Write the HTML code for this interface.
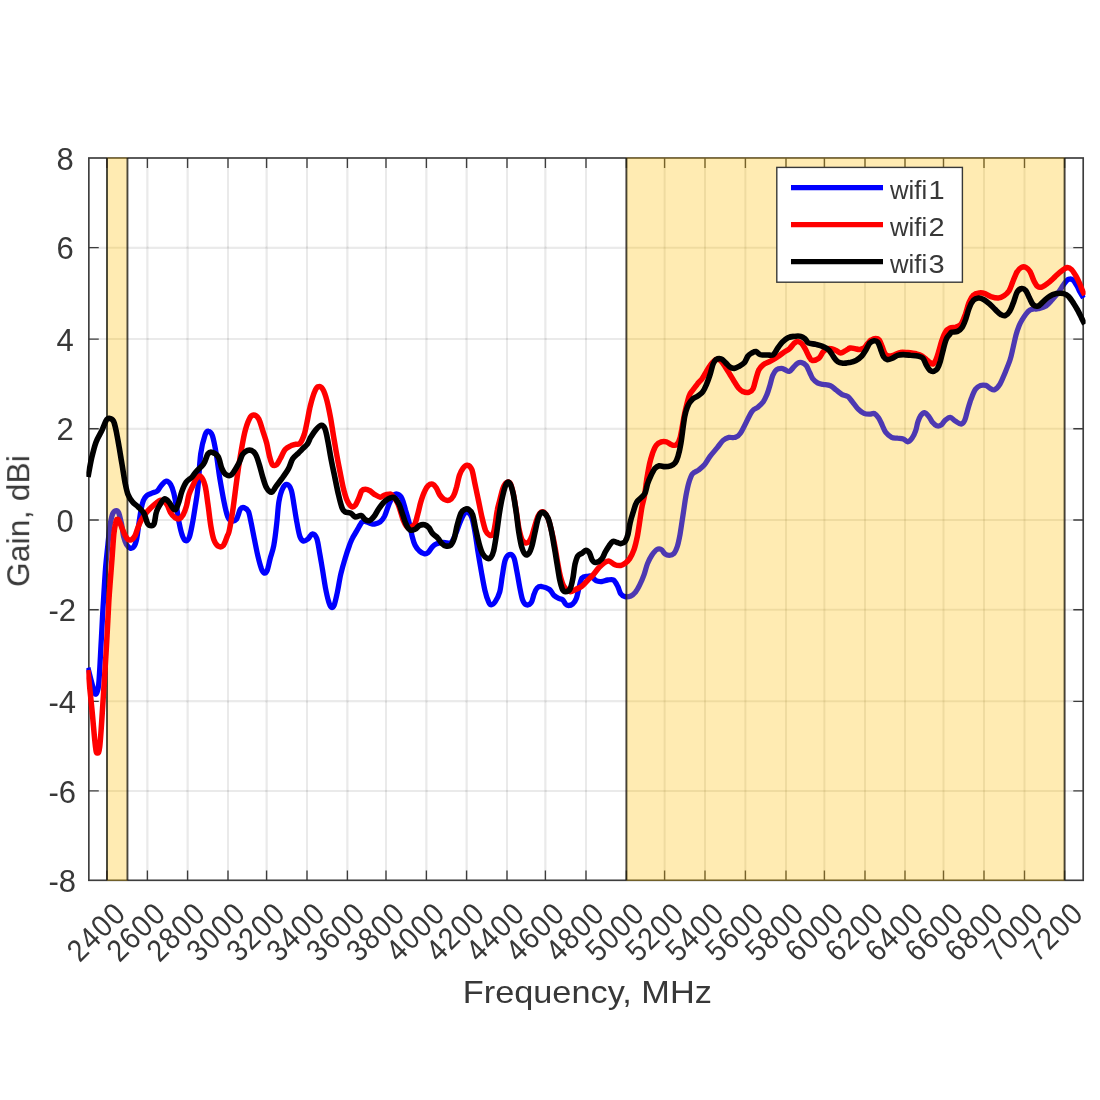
<!DOCTYPE html>
<html><head><meta charset="utf-8"><title>chart</title>
<style>html,body{margin:0;padding:0;background:#fff}body{width:1100px;height:1100px;position:relative;overflow:hidden;font-family:"Liberation Sans",sans-serif}</style>
</head><body>
<svg width="1100" height="1100" viewBox="0 0 1100 1100" style="position:absolute;left:0;top:0;font-family:'Liberation Sans',sans-serif">
<rect x="0" y="0" width="1100" height="1100" fill="#fff"/>
<filter id="bl" x="0" y="0" width="1100" height="1100" filterUnits="userSpaceOnUse"><feGaussianBlur stdDeviation="0.45"/></filter>
<g filter="url(#bl)">
<defs><clipPath id="cp"><rect x="86.35" y="158.0" width="999.25" height="722.3"/></clipPath></defs>
<path d="M107.00,158.0V880.3M147.40,158.0V880.3M187.60,158.0V880.3M228.00,158.0V880.3M266.60,158.0V880.3M307.00,158.0V880.3M347.40,158.0V880.3M386.00,158.0V880.3M426.40,158.0V880.3M466.60,158.0V880.3M507.00,158.0V880.3M545.40,158.0V880.3M586.00,158.0V880.3M626.40,158.0V880.3M664.60,158.0V880.3M705.00,158.0V880.3M745.40,158.0V880.3M786.00,158.0V880.3M824.40,158.0V880.3M865.00,158.0V880.3M905.00,158.0V880.3M943.50,158.0V880.3M984.00,158.0V880.3M1024.50,158.0V880.3M1064.60,158.0V880.3" stroke="rgba(38,38,38,0.105)" stroke-width="2" fill="none"/>
<path d="M88.85,790.90H1083.2M88.85,701.30H1083.2M88.85,609.70H1083.2M88.85,520.00H1083.2M88.85,428.70H1083.2M88.85,339.10H1083.2M88.85,247.65H1083.2" stroke="rgba(38,38,38,0.105)" stroke-width="2" fill="none"/>
<path d="M107.00,880.3v-9.9M107.00,158.0v9.9M147.40,880.3v-9.9M147.40,158.0v9.9M187.60,880.3v-9.9M187.60,158.0v9.9M228.00,880.3v-9.9M228.00,158.0v9.9M266.60,880.3v-9.9M266.60,158.0v9.9M307.00,880.3v-9.9M307.00,158.0v9.9M347.40,880.3v-9.9M347.40,158.0v9.9M386.00,880.3v-9.9M386.00,158.0v9.9M426.40,880.3v-9.9M426.40,158.0v9.9M466.60,880.3v-9.9M466.60,158.0v9.9M507.00,880.3v-9.9M507.00,158.0v9.9M545.40,880.3v-9.9M545.40,158.0v9.9M586.00,880.3v-9.9M586.00,158.0v9.9M626.40,880.3v-9.9M626.40,158.0v9.9M664.60,880.3v-9.9M664.60,158.0v9.9M705.00,880.3v-9.9M705.00,158.0v9.9M745.40,880.3v-9.9M745.40,158.0v9.9M786.00,880.3v-9.9M786.00,158.0v9.9M824.40,880.3v-9.9M824.40,158.0v9.9M865.00,880.3v-9.9M865.00,158.0v9.9M905.00,880.3v-9.9M905.00,158.0v9.9M943.50,880.3v-9.9M943.50,158.0v9.9M984.00,880.3v-9.9M984.00,158.0v9.9M1024.50,880.3v-9.9M1024.50,158.0v9.9M1064.60,880.3v-9.9M1064.60,158.0v9.9M88.85,790.90h9.9M1083.2,790.90h-9.9M88.85,701.30h9.9M1083.2,701.30h-9.9M88.85,609.70h9.9M1083.2,609.70h-9.9M88.85,520.00h9.9M1083.2,520.00h-9.9M88.85,428.70h9.9M1083.2,428.70h-9.9M88.85,339.10h9.9M1083.2,339.10h-9.9M88.85,247.65h9.9M1083.2,247.65h-9.9" stroke="#3c3c3c" stroke-width="1.35" fill="none"/>
<rect x="88.85" y="158.0" width="994.35" height="722.3" fill="none" stroke="#3c3c3c" stroke-width="1.65"/>
<g clip-path="url(#cp)" fill="none" stroke-linejoin="round" stroke-linecap="butt">
<path d="M87.9,667.7C88.6,670.3 90.7,678.8 91.9,683.1C93.1,687.4 94.1,692.4 95.0,693.7C95.9,695.1 96.7,693.5 97.3,691.4C98.0,689.2 98.3,689.6 99.0,680.7C99.7,671.9 100.6,651.6 101.4,638.2C102.1,624.7 102.7,611.8 103.5,600.0C104.2,588.2 104.9,576.4 105.6,567.3C106.4,558.2 107.1,552.4 107.8,545.5C108.5,538.5 109.2,531.1 110.0,525.8C110.8,520.5 111.7,516.4 112.7,513.8C113.7,511.3 115.0,510.7 116.0,510.6C117.0,510.4 117.8,510.5 118.7,512.7C119.6,514.9 120.6,519.6 121.5,523.6C122.3,527.6 122.8,533.3 123.6,536.7C124.5,540.2 125.3,542.5 126.4,544.4C127.5,546.3 128.9,547.8 130.2,548.2C131.5,548.5 132.9,548.1 134.0,546.5C135.1,545.0 135.9,542.7 136.7,538.9C137.5,535.1 138.2,528.5 138.9,523.6C139.6,518.7 140.4,513.3 141.1,509.4C141.8,505.6 142.4,503.0 143.3,500.7C144.2,498.5 145.1,497.1 146.6,495.8C148.0,494.5 150.2,493.9 152.0,493.1C153.8,492.3 155.9,492.2 157.4,490.9C159.0,489.6 159.8,487.1 161.3,485.4C162.7,483.8 164.6,481.3 166.2,481.1C167.7,480.9 169.3,482.4 170.6,484.4C171.8,486.4 172.8,489.3 173.8,493.1C174.8,496.9 175.6,502.2 176.6,507.3C177.5,512.4 178.4,519.1 179.3,523.6C180.2,528.2 181.0,531.7 182.0,534.5C183.0,537.4 184.1,540.0 185.3,540.5C186.5,541.1 187.9,540.6 189.1,537.8C190.3,535.0 191.4,528.7 192.4,523.6C193.4,518.5 194.2,513.1 195.1,507.3C196.0,501.5 196.9,497.6 197.8,488.7C198.8,479.8 199.5,462.8 200.7,453.8C201.9,444.9 203.8,438.7 205.1,434.9C206.4,431.2 207.5,431.1 208.7,431.3C209.9,431.4 211.1,432.1 212.4,435.6C213.6,439.2 214.8,445.5 216.0,452.4C217.2,459.3 218.3,468.8 219.6,477.1C221.0,485.3 222.7,495.3 224.0,501.8C225.3,508.4 226.4,513.2 227.6,516.4C228.9,519.5 229.8,520.2 231.3,520.7C232.7,521.2 234.8,521.2 236.4,519.3C237.9,517.3 239.1,511.0 240.4,509.1C241.6,507.2 242.7,507.3 244.0,507.6C245.3,508.0 247.1,508.6 248.4,511.3C249.6,513.9 250.3,519.2 251.3,523.6C252.2,528.1 253.1,532.8 254.2,538.2C255.3,543.5 256.6,550.5 257.8,555.6C259.0,560.7 260.4,565.8 261.4,568.7C262.5,571.6 263.4,572.8 264.4,573.1C265.3,573.3 266.3,572.6 267.3,570.2C268.2,567.8 269.1,562.7 270.2,558.5C271.3,554.4 272.7,551.3 273.8,545.5C274.9,539.6 275.9,530.9 276.7,523.6C277.6,516.4 277.9,507.6 278.9,501.8C279.9,496.0 281.2,491.6 282.6,488.7C283.9,485.8 285.5,484.1 286.9,484.4C288.4,484.6 290.1,486.5 291.3,490.2C292.5,493.8 293.2,500.6 294.2,506.2C295.1,511.8 296.1,518.5 297.1,523.6C298.1,528.7 298.9,533.8 300.0,536.7C301.1,539.6 302.3,540.7 303.6,541.1C305.0,541.5 306.5,540.1 308.0,538.9C309.5,537.7 310.9,533.9 312.4,533.8C313.8,533.7 315.5,535.0 316.7,538.2C317.9,541.3 318.7,547.4 319.6,552.7C320.6,558.1 321.6,564.4 322.6,570.2C323.5,576.0 324.5,582.5 325.4,587.6C326.4,592.7 327.4,597.5 328.4,600.7C329.3,604.0 330.3,606.5 331.3,607.3C332.2,608.0 333.2,607.4 334.2,605.1C335.1,602.8 336.0,598.5 337.1,593.5C338.2,588.4 339.4,580.4 340.7,574.5C342.1,568.7 343.6,563.4 345.1,558.5C346.5,553.7 348.2,548.8 349.4,545.5C350.7,542.1 351.1,540.6 352.4,538.2C353.6,535.8 355.2,533.6 356.7,530.9C358.3,528.2 360.4,523.8 361.8,522.2C363.3,520.6 363.9,521.2 365.4,521.5C367.0,521.7 369.8,523.2 371.3,523.6C372.8,524.1 372.9,524.4 374.4,524.1C375.8,523.8 378.5,523.2 380.2,521.9C381.9,520.6 383.1,519.0 384.6,516.1C386.0,513.2 387.5,507.8 388.9,504.4C390.4,501.1 391.8,497.4 393.3,495.7C394.7,494.0 396.2,493.8 397.6,494.3C399.1,494.8 400.7,496.0 402.0,498.6C403.3,501.3 404.4,506.1 405.6,510.3C406.9,514.4 408.2,519.0 409.3,523.4C410.4,527.7 411.2,532.8 412.2,536.5C413.1,540.1 413.9,542.8 415.1,545.2C416.3,547.6 417.9,549.5 419.4,551.0C421.0,552.5 423.1,553.7 424.6,553.9C426.0,554.2 426.8,553.7 428.2,552.5C429.5,551.2 431.1,548.1 432.6,546.6C434.0,545.2 435.2,544.5 436.9,543.7C438.6,543.0 441.0,542.4 442.7,542.3C444.4,542.1 445.6,543.0 447.1,543.0C448.5,543.0 450.0,543.8 451.4,542.3C452.9,540.7 454.4,536.9 455.8,533.5C457.3,530.2 458.7,525.3 460.2,521.9C461.6,518.5 463.2,514.8 464.6,513.2C465.9,511.6 467.0,511.7 468.2,512.5C469.4,513.2 470.7,514.5 471.8,517.5C472.9,520.6 473.8,525.3 474.7,530.6C475.7,536.0 476.6,542.8 477.6,549.5C478.7,556.3 480.1,564.6 481.3,571.4C482.5,578.1 483.7,585.2 484.9,590.3C486.1,595.4 487.5,599.5 488.6,601.9C489.6,604.3 490.4,604.8 491.4,604.8C492.5,604.8 493.7,604.0 495.1,601.9C496.5,599.8 498.5,596.3 499.7,592.0C500.9,587.8 501.3,581.6 502.2,576.4C503.1,571.1 503.9,564.0 505.1,560.4C506.3,556.7 508.0,555.0 509.4,554.5C510.9,554.1 512.6,554.8 513.8,557.5C515.0,560.1 515.8,565.7 516.7,570.5C517.7,575.4 518.7,581.7 519.6,586.5C520.6,591.4 521.5,596.6 522.5,599.6C523.6,602.7 524.7,604.2 526.2,604.7C527.6,605.2 529.9,604.4 531.3,602.5C532.6,600.7 533.2,596.2 534.2,593.8C535.1,591.4 535.9,589.2 537.1,588.0C538.3,586.8 539.4,586.3 541.5,586.5C543.5,586.8 547.4,588.0 549.5,589.5C551.5,590.9 552.4,593.8 553.8,595.3C555.3,596.7 556.7,597.5 558.2,598.2C559.6,598.9 561.3,598.7 562.5,599.6C563.8,600.6 564.5,603.0 565.5,604.0C566.4,605.0 567.1,605.5 568.4,605.5C569.6,605.5 571.4,605.2 572.7,604.0C574.1,602.8 575.3,601.1 576.4,598.2C577.5,595.3 578.3,589.9 579.3,586.5C580.2,583.2 580.8,579.5 582.2,577.8C583.5,576.1 585.7,576.6 587.3,576.4C588.8,576.1 590.2,575.6 591.6,576.4C593.1,577.1 594.3,579.9 596.0,580.7C597.7,581.6 599.9,581.6 601.8,581.5C603.8,581.3 605.7,580.2 607.6,580.0C609.6,579.8 611.8,578.9 613.5,580.0C615.1,581.1 616.6,584.2 617.8,586.5C619.0,588.9 619.5,592.1 620.7,593.8C621.9,595.5 623.4,596.4 625.1,596.7C626.8,597.1 629.2,596.7 630.9,596.0C632.6,595.3 633.8,594.2 635.3,592.4C636.7,590.5 638.2,588.0 639.6,585.1C641.1,582.2 642.7,578.5 644.0,574.9C645.3,571.3 646.2,566.9 647.5,563.6C648.8,560.4 650.3,557.6 651.8,555.3C653.4,552.9 655.3,550.4 656.9,549.5C658.5,548.5 659.9,548.7 661.3,549.5C662.6,550.2 663.6,552.9 664.9,553.8C666.2,554.8 667.8,555.3 669.3,555.3C670.7,555.3 672.3,555.3 673.6,553.8C675.0,552.4 676.2,549.9 677.3,546.5C678.4,543.2 679.2,538.8 680.2,533.5C681.1,528.1 682.1,520.9 683.1,514.5C684.1,508.2 685.0,501.0 686.0,495.6C687.0,490.3 687.8,486.2 688.9,482.6C690.0,478.9 691.0,475.9 692.5,473.8C694.1,471.8 696.4,471.6 698.4,470.2C700.3,468.7 702.2,467.4 704.2,465.1C706.1,462.8 707.8,459.3 710.0,456.4C712.2,453.5 715.1,450.3 717.3,447.6C719.5,445.0 721.2,442.1 723.1,440.4C725.0,438.7 727.0,437.9 728.9,437.4C730.8,437.0 732.8,438.2 734.7,437.4C736.7,436.7 737.7,437.3 740.5,433.1C743.4,428.8 748.8,416.2 751.6,412.0C754.5,407.8 755.5,409.3 757.5,407.6C759.4,405.9 761.7,404.0 763.3,401.8C764.8,399.6 765.8,397.2 766.9,394.6C768.0,391.9 768.9,389.0 769.8,385.8C770.8,382.7 771.6,378.3 772.7,375.6C773.8,373.0 774.9,371.0 776.4,369.8C777.8,368.6 780.0,368.4 781.5,368.4C782.9,368.4 783.8,369.3 785.1,369.8C786.4,370.3 788.0,371.8 789.5,371.3C790.9,370.8 792.5,368.2 793.8,366.9C795.2,365.6 796.1,364.0 797.5,363.3C798.8,362.5 800.4,362.2 801.8,362.6C803.3,362.9 804.8,363.8 806.2,365.4C807.5,367.1 808.7,370.5 809.8,372.7C810.9,374.9 811.5,376.9 812.7,378.6C814.0,380.2 815.7,381.9 817.5,382.9C819.2,383.9 821.1,383.9 823.3,384.4C825.5,384.8 828.4,384.9 830.5,385.8C832.7,386.8 834.4,388.7 836.4,390.2C838.3,391.6 840.2,393.5 842.2,394.6C844.1,395.6 846.3,395.5 848.0,396.7C849.7,397.9 850.7,399.8 852.4,401.8C854.1,403.9 856.2,407.2 858.2,409.1C860.1,411.0 862.1,412.6 864.0,413.4C865.9,414.3 868.1,414.2 869.8,414.2C871.5,414.2 872.7,412.8 874.2,413.4C875.6,414.1 877.2,415.9 878.5,417.8C879.9,419.8 881.0,422.7 882.2,425.1C883.4,427.5 884.2,430.3 885.8,432.4C887.4,434.4 889.7,436.5 891.6,437.4C893.6,438.4 895.5,437.9 897.5,438.2C899.4,438.4 901.6,438.3 903.3,438.9C905.0,439.5 906.2,441.9 907.6,441.8C909.1,441.7 910.7,440.0 912.0,438.2C913.3,436.4 914.7,433.6 915.6,430.9C916.6,428.2 917.0,424.7 917.8,422.2C918.7,419.6 919.6,417.2 920.7,415.6C921.8,414.1 923.0,412.6 924.4,412.7C925.7,412.9 927.4,414.8 928.7,416.4C930.1,417.9 931.0,420.6 932.4,422.2C933.7,423.8 935.3,425.3 936.7,425.8C938.2,426.3 939.7,426.0 941.1,425.1C942.5,424.2 943.6,421.6 945.1,420.4C946.6,419.1 948.5,417.3 950.2,417.4C951.9,417.6 953.5,420.0 955.3,421.1C957.1,422.2 959.5,424.1 961.1,424.0C962.7,423.9 963.6,422.7 964.7,420.4C965.8,418.1 966.5,413.8 967.6,410.2C968.7,406.5 969.9,402.1 971.3,398.6C972.6,395.0 974.1,391.3 975.6,389.1C977.2,386.9 979.0,386.1 980.7,385.4C982.4,384.8 984.2,385.0 985.8,385.4C987.4,385.9 988.7,387.6 990.2,388.4C991.6,389.1 993.0,390.4 994.5,389.8C996.1,389.2 998.1,387.2 999.6,384.7C1001.2,382.3 1002.3,379.4 1004.0,375.3C1005.7,371.1 1008.5,364.5 1010.0,360.0C1011.5,355.5 1012.0,352.2 1013.0,348.0C1014.0,343.8 1015.0,338.7 1016.0,335.0C1017.0,331.3 1018.0,328.5 1019.0,326.0C1020.0,323.5 1020.8,322.0 1022.0,320.0C1023.2,318.0 1024.7,315.7 1026.0,314.0C1027.3,312.3 1028.7,310.8 1030.0,310.0C1031.3,309.2 1032.7,309.2 1034.0,309.0C1035.3,308.8 1036.0,309.3 1038.0,308.8C1040.0,308.3 1043.7,307.5 1046.0,306.0C1048.3,304.5 1050.0,302.2 1052.0,300.0C1054.0,297.8 1056.3,295.2 1058.0,293.0C1059.7,290.8 1060.7,288.9 1062.0,287.0C1063.3,285.1 1064.8,282.8 1066.0,281.5C1067.2,280.2 1067.8,279.4 1069.0,279.2C1070.2,278.9 1071.7,278.9 1073.0,280.0C1074.3,281.1 1075.8,284.0 1077.0,286.0C1078.2,288.0 1078.9,290.0 1080.0,292.0C1081.1,294.0 1082.9,297.0 1083.5,298.0" stroke="#0000ff" stroke-width="5.3"/>
</g>
<rect x="107.00" y="157.4" width="20.45" height="723.5" fill="rgba(255,190,0,0.30)"/>
<path d="M107.00,158.0V880.3M127.45,158.0V880.3" stroke="rgba(30,28,20,0.8)" stroke-width="1.9" fill="none"/>
<rect x="626.40" y="157.4" width="438.20" height="723.5" fill="rgba(255,190,0,0.30)"/>
<path d="M626.40,158.0V880.3M1064.60,158.0V880.3" stroke="rgba(30,28,20,0.8)" stroke-width="1.9" fill="none"/>
<g clip-path="url(#cp)" fill="none" stroke-linejoin="round" stroke-linecap="butt">
<path d="M87.9,670.1C88.6,676.6 90.6,696.3 91.9,709.1C93.2,721.9 94.5,739.6 95.5,746.9C96.4,754.2 96.6,752.8 97.3,752.8C98.1,752.8 98.8,754.2 99.7,746.9C100.6,739.6 101.5,724.8 102.5,709.1C103.6,693.3 105.0,670.5 106.1,652.4C107.2,634.2 108.2,612.4 108.9,600.0C109.7,587.6 110.0,585.5 110.5,578.2C111.1,570.9 111.6,563.6 112.2,556.4C112.7,549.1 113.3,540.0 113.8,534.5C114.4,529.1 114.9,526.2 115.5,523.6C116.0,521.1 116.5,519.6 117.1,519.3C117.7,518.9 118.5,520.0 119.3,521.5C120.1,522.9 121.1,525.8 122.0,528.0C122.9,530.2 123.7,532.6 124.7,534.5C125.7,536.5 126.8,538.6 128.0,539.5C129.2,540.3 130.6,540.1 131.8,539.5C133.0,538.8 134.1,537.5 135.1,535.6C136.1,533.7 136.8,530.5 137.8,528.0C138.8,525.5 139.8,522.7 141.1,520.4C142.4,518.0 143.8,515.9 145.4,513.8C147.1,511.7 149.1,509.6 150.9,507.8C152.7,506.0 154.7,504.2 156.4,502.9C158.0,501.6 159.5,500.5 160.7,500.2C162.0,499.9 162.9,500.5 164.0,501.3C165.1,502.1 166.2,503.2 167.3,505.1C168.4,507.0 169.3,510.6 170.6,512.7C171.8,514.8 173.5,516.6 174.9,517.6C176.4,518.6 177.9,519.2 179.3,518.7C180.6,518.3 181.9,517.0 183.1,514.9C184.3,512.8 185.4,509.6 186.4,506.2C187.4,502.7 187.9,497.8 189.1,494.2C190.3,490.5 192.2,487.0 193.4,484.4C194.7,481.8 195.1,479.9 196.4,478.6C197.6,477.2 199.3,475.1 200.7,476.4C202.2,477.6 203.9,481.1 205.1,485.8C206.3,490.5 207.0,497.9 208.0,504.7C209.0,511.5 209.9,520.7 210.9,526.5C211.9,532.4 212.6,536.4 213.8,539.6C215.0,542.9 216.6,545.2 218.2,546.2C219.8,547.1 221.7,547.3 223.3,545.5C224.8,543.6 226.6,537.8 227.6,535.3C228.7,532.7 228.5,534.5 229.4,530.0C230.4,525.5 231.9,516.4 233.1,508.2C234.3,499.9 235.5,489.3 236.7,480.6C237.9,471.8 239.0,463.8 240.4,455.8C241.7,447.8 243.3,438.6 244.7,432.6C246.2,426.5 247.6,422.4 249.1,419.4C250.5,416.5 251.9,415.2 253.4,415.1C255.0,415.0 257.0,416.1 258.6,418.7C260.1,421.4 261.6,427.1 262.9,431.1C264.2,435.1 265.5,438.6 266.6,442.7C267.6,446.9 268.5,452.2 269.4,455.8C270.4,459.5 271.1,463.1 272.4,464.6C273.6,466.0 275.4,465.6 276.7,464.6C278.1,463.5 278.9,460.9 280.4,458.4C281.8,455.8 283.6,451.4 285.4,449.3C287.3,447.1 289.6,446.5 291.3,445.6C293.0,444.8 294.2,444.5 295.6,444.2C297.1,443.8 298.5,445.1 300.0,443.4C301.5,441.8 303.1,437.8 304.4,434.0C305.6,430.2 306.3,425.5 307.3,420.9C308.2,416.3 309.0,411.2 310.2,406.4C311.4,401.5 313.2,395.1 314.6,391.8C315.9,388.5 316.8,387.2 318.2,386.7C319.5,386.2 321.1,386.6 322.6,388.9C324.0,391.2 325.6,395.7 326.9,400.6C328.2,405.4 329.5,412.2 330.6,418.0C331.6,423.8 332.5,429.6 333.4,435.4C334.4,441.3 335.3,446.8 336.4,452.9C337.5,459.0 338.8,465.8 340.0,471.8C341.2,477.9 342.4,484.4 343.6,489.3C344.9,494.1 345.9,498.0 347.3,500.9C348.6,503.8 350.3,506.0 351.6,506.7C353.0,507.5 354.1,506.7 355.3,505.3C356.5,503.8 357.8,500.4 358.9,498.0C360.0,495.6 360.7,492.2 361.8,490.7C362.9,489.3 364.1,489.3 365.4,489.3C366.8,489.3 368.3,489.9 369.8,490.7C371.3,491.6 372.6,493.2 374.4,494.3C376.1,495.3 378.5,497.1 380.2,497.2C381.9,497.3 383.1,495.5 384.6,495.0C386.0,494.5 387.7,494.3 388.9,494.3C390.1,494.3 390.4,493.5 391.8,495.0C393.3,496.5 395.7,498.8 397.6,503.0C399.6,507.2 401.8,516.3 403.4,520.5C405.1,524.6 406.4,526.8 407.8,527.7C409.3,528.7 411.0,527.0 412.2,526.3C413.4,525.5 414.1,525.5 415.1,523.4C416.1,521.2 417.0,516.8 418.0,513.2C419.0,509.5 419.8,505.2 420.9,501.6C422.0,497.9 423.3,494.0 424.6,491.4C425.8,488.7 426.8,486.8 428.2,485.6C429.5,484.3 431.2,483.7 432.6,484.1C433.9,484.5 435.0,485.9 436.2,487.7C437.4,489.5 438.5,493.1 439.8,495.0C441.2,496.9 442.6,498.5 444.2,499.4C445.8,500.2 447.7,500.7 449.3,500.1C450.8,499.5 452.4,497.9 453.6,495.7C454.9,493.5 455.6,490.4 456.6,487.0C457.5,483.6 458.4,478.5 459.4,475.4C460.5,472.2 461.8,469.8 463.1,468.1C464.4,466.4 466.0,464.9 467.4,465.2C468.9,465.4 470.6,466.6 471.8,469.6C473.0,472.5 473.6,477.6 474.7,482.6C475.8,487.7 477.1,494.3 478.4,500.1C479.6,505.9 480.8,512.5 482.0,517.5C483.2,522.6 484.4,527.7 485.6,530.6C486.9,533.5 488.1,534.4 489.3,535.0C490.5,535.6 491.9,536.0 492.9,534.3C493.9,532.6 494.4,528.8 495.1,524.8C495.8,520.8 496.5,514.3 497.3,510.3C498.0,506.2 498.8,504.1 499.7,500.4C500.7,496.8 501.8,491.3 502.9,488.4C504.0,485.4 505.3,483.4 506.6,482.6C507.8,481.7 509.1,481.6 510.2,483.3C511.3,485.0 512.1,488.4 513.1,492.7C514.1,497.1 515.0,503.5 516.0,509.4C517.0,515.4 517.9,523.4 518.9,528.4C519.9,533.3 520.7,536.8 521.8,539.3C522.9,541.7 524.2,542.5 525.5,542.9C526.7,543.3 528.0,542.7 529.1,541.5C530.2,540.2 531.0,538.3 532.0,535.6C533.0,533.0 533.9,528.6 534.9,525.5C535.9,522.3 536.9,518.9 537.8,516.7C538.8,514.5 539.6,513.0 540.7,512.4C541.8,511.7 543.1,511.7 544.4,512.6C545.6,513.6 546.9,515.6 548.0,518.2C549.1,520.8 549.8,524.0 550.9,528.4C552.0,532.7 553.5,538.8 554.5,544.4C555.6,549.9 556.5,556.5 557.5,561.8C558.4,567.2 559.3,572.2 560.4,576.4C561.5,580.5 562.4,584.0 564.0,586.5C565.6,589.1 567.9,591.2 569.8,591.6C571.8,592.1 573.7,590.3 575.6,589.5C577.6,588.6 579.5,588.0 581.5,586.5C583.4,585.1 585.3,582.7 587.3,580.7C589.2,578.8 591.2,577.1 593.1,574.9C595.0,572.7 597.0,569.7 598.9,567.6C600.8,565.6 603.0,563.6 604.7,562.5C606.4,561.5 607.4,560.7 609.1,561.1C610.8,561.5 613.0,564.0 614.9,564.7C616.8,565.5 619.0,565.7 620.7,565.5C622.4,565.2 623.6,564.4 625.1,563.3C626.5,562.2 628.0,561.1 629.5,558.9C630.9,556.7 632.5,554.1 633.8,550.2C635.2,546.3 636.1,542.5 637.5,535.6C638.8,528.7 640.5,515.4 641.6,508.7C642.8,502.1 643.7,500.5 644.5,495.6C645.4,490.8 645.9,485.0 646.7,479.6C647.6,474.3 648.7,468.0 649.6,463.6C650.6,459.3 651.5,456.5 652.5,453.4C653.6,450.4 654.7,447.4 656.2,445.4C657.6,443.5 659.6,442.4 661.3,441.8C663.0,441.2 664.7,441.3 666.4,441.8C668.1,442.3 669.8,444.2 671.5,444.7C673.1,445.2 675.1,445.9 676.5,444.7C678.0,443.5 678.8,442.7 680.2,437.4C681.5,432.2 683.2,420.4 684.7,413.4C686.2,406.5 687.8,399.9 689.1,396.0C690.4,392.1 691.4,392.1 692.7,390.2C694.1,388.2 695.5,386.3 697.1,384.4C698.7,382.4 700.6,380.7 702.2,378.6C703.8,376.4 705.2,373.5 706.5,371.3C707.9,369.1 708.6,367.4 710.2,365.4C711.8,363.5 714.2,360.4 716.0,359.6C717.8,358.9 719.4,359.6 721.1,361.1C722.8,362.5 724.7,366.2 726.2,368.4C727.6,370.5 728.5,372.0 729.8,374.2C731.2,376.4 732.7,379.1 734.2,381.4C735.6,383.8 737.1,386.3 738.5,388.0C740.0,389.7 741.2,390.9 742.9,391.6C744.6,392.4 747.0,392.8 748.7,392.4C750.4,391.9 751.9,391.0 753.1,388.7C754.3,386.4 755.0,381.7 756.0,378.6C757.0,375.4 757.7,372.1 758.9,369.8C760.1,367.5 761.3,366.2 763.3,364.7C765.2,363.3 768.1,362.4 770.5,361.1C773.0,359.8 775.6,358.2 777.8,356.7C780.0,355.3 781.7,353.7 783.6,352.4C785.6,351.0 787.8,350.2 789.5,348.7C791.1,347.3 792.5,344.9 793.8,343.6C795.2,342.4 796.1,341.4 797.5,341.4C798.8,341.4 800.5,342.3 801.8,343.6C803.2,345.0 804.2,347.3 805.5,349.4C806.7,351.6 808.0,354.9 809.1,356.7C810.2,358.5 810.4,360.1 812.0,360.4C813.6,360.6 817.0,359.6 818.9,358.2C820.8,356.7 821.8,353.2 823.3,351.6C824.7,350.1 826.3,349.2 827.6,348.7C829.0,348.2 829.9,348.5 831.3,348.7C832.6,349.0 834.1,349.5 835.6,350.2C837.2,350.9 839.2,353.0 840.7,353.1C842.3,353.2 843.5,351.8 845.1,350.9C846.7,350.1 848.5,348.4 850.2,348.0C851.9,347.6 853.7,348.5 855.3,348.7C856.8,349.0 858.2,349.6 859.6,349.4C861.1,349.3 862.7,349.0 864.0,348.0C865.3,347.0 866.4,345.0 867.6,343.6C868.9,342.3 869.9,340.8 871.3,340.0C872.6,339.2 874.3,338.6 875.6,338.6C877.0,338.6 878.2,338.7 879.3,340.0C880.4,341.3 881.2,344.2 882.2,346.6C883.1,348.9 884.0,352.2 885.1,353.8C886.2,355.4 887.4,355.8 888.7,356.0C890.1,356.2 891.2,355.9 893.1,355.3C895.0,354.7 897.9,352.8 900.4,352.4C902.8,351.9 905.0,352.4 907.6,352.6C910.3,352.9 913.9,353.3 916.4,353.8C918.8,354.4 920.5,355.0 922.2,356.0C923.9,357.0 925.2,358.5 926.5,359.6C927.9,360.7 929.1,361.8 930.2,362.6C931.3,363.3 932.1,364.5 933.1,364.0C934.1,363.5 935.0,361.8 936.0,359.6C937.0,357.5 937.9,354.1 938.9,350.9C939.9,347.8 940.7,343.9 941.8,340.7C942.9,337.6 944.1,334.1 945.5,332.0C946.8,329.9 948.2,328.9 950.0,328.1C951.8,327.3 954.2,327.7 956.0,327.1C957.8,326.4 959.5,326.4 961.1,324.2C962.7,322.0 964.1,317.6 965.5,314.0C966.8,310.4 967.8,305.5 969.1,302.4C970.4,299.2 971.8,296.7 973.5,295.1C975.1,293.5 977.3,293.2 979.3,292.9C981.2,292.7 983.2,293.0 985.1,293.6C987.0,294.2 988.7,295.8 990.9,296.6C993.1,297.3 996.0,298.1 998.2,298.0C1000.4,297.9 1002.2,297.0 1004.0,295.8C1005.8,294.6 1007.6,293.0 1009.1,290.7C1010.5,288.4 1011.4,285.2 1012.7,282.0C1014.1,278.8 1015.6,274.2 1017.1,271.8C1018.5,269.4 1020.0,268.2 1021.5,267.4C1022.9,266.7 1024.4,266.7 1025.8,267.4C1027.3,268.2 1028.8,269.6 1030.2,271.8C1031.5,274.0 1032.6,278.1 1033.8,280.6C1035.0,283.0 1036.1,285.3 1037.5,286.4C1038.8,287.4 1040.1,287.6 1041.8,287.1C1043.5,286.6 1045.5,285.1 1047.6,283.4C1049.8,281.8 1052.5,279.1 1054.9,276.9C1057.3,274.7 1060.1,271.9 1062.2,270.4C1064.2,268.8 1065.7,267.6 1067.3,267.4C1068.8,267.3 1070.2,268.2 1071.6,269.6C1073.1,271.1 1074.7,273.9 1076.0,276.2C1077.3,278.5 1078.5,281.0 1079.6,283.4C1080.7,285.9 1081.7,288.8 1082.5,290.7C1083.4,292.7 1084.4,294.4 1084.7,295.1" stroke="#ff0000" stroke-width="5.5"/>
<path d="M88.0,477.1C88.6,473.9 90.3,464.0 91.6,458.2C93.0,452.4 94.3,446.8 96.0,442.2C97.7,437.6 100.1,434.2 101.8,430.6C103.5,426.9 105.0,422.4 106.2,420.4C107.4,418.3 107.9,418.1 109.1,418.2C110.3,418.3 112.2,418.8 113.5,421.1C114.7,423.4 115.4,427.5 116.4,432.0C117.3,436.5 118.3,442.4 119.3,448.0C120.2,453.6 121.2,459.6 122.2,465.4C123.2,471.3 124.1,478.1 125.1,482.9C126.1,487.8 126.8,491.4 128.0,494.6C129.2,497.7 130.7,499.8 132.4,501.8C134.1,503.9 136.2,505.0 138.2,506.9C140.1,508.8 142.4,510.7 144.0,513.5C145.6,516.2 146.4,521.6 147.6,523.6C148.9,525.7 150.2,525.8 151.3,525.8C152.4,525.8 153.3,525.9 154.2,523.6C155.0,521.3 155.4,515.2 156.4,512.0C157.3,508.8 158.7,506.9 160.0,504.7C161.3,502.5 162.9,499.4 164.4,498.9C165.8,498.4 167.3,500.2 168.7,501.8C170.2,503.4 171.9,507.1 173.1,508.4C174.3,509.6 175.0,510.2 176.0,509.1C177.0,508.0 177.9,504.7 178.9,501.8C179.9,498.9 180.6,494.9 181.8,491.6C183.0,488.4 184.5,484.6 186.2,482.2C187.9,479.8 190.3,478.9 192.0,477.1C193.7,475.3 194.4,473.5 196.4,471.3C198.3,469.1 201.7,466.9 203.6,464.0C205.6,461.1 206.5,455.8 208.0,453.8C209.5,451.9 210.7,451.9 212.4,452.4C214.1,452.8 216.6,454.1 218.2,456.7C219.8,459.4 220.6,465.5 221.8,468.4C223.0,471.3 223.9,473.1 225.4,474.2C227.0,475.3 229.0,476.8 231.3,474.9C233.5,473.1 237.0,466.5 238.9,463.1C240.8,459.7 241.2,456.4 242.6,454.4C243.9,452.3 245.5,451.4 246.9,450.7C248.4,450.1 249.8,449.8 251.3,450.4C252.7,451.0 254.3,452.0 255.6,454.4C257.0,456.7 258.1,460.7 259.3,464.6C260.5,468.4 261.7,473.8 262.9,477.6C264.1,481.5 265.1,485.4 266.6,487.8C268.0,490.2 270.1,492.4 271.6,492.2C273.2,491.9 274.2,488.8 276.0,486.4C277.8,483.9 280.5,480.5 282.6,477.6C284.6,474.7 286.7,472.1 288.4,468.9C290.1,465.8 291.0,461.4 292.7,458.7C294.4,456.1 296.9,454.6 298.6,452.9C300.2,451.2 301.5,450.0 302.9,448.6C304.4,447.1 305.9,446.1 307.3,444.2C308.6,442.2 309.5,439.3 310.9,436.9C312.4,434.5 314.3,431.6 316.0,429.6C317.7,427.7 319.6,425.5 321.1,425.3C322.5,425.0 323.6,425.8 324.7,428.2C325.8,430.6 326.6,434.5 327.6,439.8C328.7,445.2 330.1,453.9 331.3,460.2C332.5,466.5 333.7,471.8 334.9,477.6C336.1,483.5 337.3,490.0 338.6,495.1C339.8,500.2 341.1,505.4 342.2,508.2C343.3,511.0 343.6,511.0 345.1,511.8C346.5,512.7 349.2,512.4 350.9,513.3C352.6,514.1 353.6,516.5 355.3,516.9C357.0,517.3 359.4,515.0 361.1,515.5C362.8,515.9 364.0,519.0 365.4,519.8C366.9,520.7 368.3,521.2 369.8,520.5C371.3,519.9 372.9,518.0 374.4,516.1C375.8,514.1 377.0,511.2 378.7,508.8C380.4,506.4 382.6,503.4 384.6,501.6C386.5,499.7 388.7,498.5 390.4,497.9C392.1,497.3 393.3,496.8 394.7,497.9C396.2,499.0 397.8,501.7 399.1,504.4C400.4,507.2 401.5,511.2 402.7,514.6C403.9,518.0 405.1,522.3 406.4,524.8C407.6,527.4 408.5,529.2 410.0,529.9C411.5,530.6 413.5,529.9 415.1,529.2C416.7,528.5 417.9,526.3 419.4,525.5C421.0,524.8 423.0,524.5 424.6,524.8C426.1,525.2 427.6,526.3 428.9,527.7C430.2,529.2 431.1,531.9 432.6,533.5C434.0,535.2 436.1,536.2 437.6,537.9C439.2,539.6 440.7,542.4 442.0,543.7C443.3,545.1 444.2,545.7 445.6,545.9C447.1,546.2 449.3,546.5 450.7,545.2C452.2,543.8 453.3,541.3 454.4,537.9C455.4,534.5 456.2,528.9 457.3,524.8C458.4,520.7 459.7,515.7 460.9,513.2C462.1,510.6 463.2,510.2 464.6,509.6C465.9,508.9 467.6,508.7 468.9,509.6C470.2,510.4 471.5,511.6 472.6,514.6C473.6,517.7 474.4,522.9 475.4,527.7C476.5,532.6 477.9,539.4 479.1,543.7C480.3,548.1 481.4,551.5 482.7,553.9C484.1,556.3 485.8,557.7 487.1,558.3C488.4,558.9 489.6,558.8 490.7,557.5C491.8,556.3 492.7,555.0 493.6,551.0C494.6,547.0 495.6,539.9 496.6,533.5C497.5,527.2 498.5,519.2 499.4,513.2C500.4,507.1 501.2,502.2 502.4,497.2C503.5,492.2 505.2,485.5 506.6,483.3C507.9,481.1 509.1,482.3 510.2,484.0C511.3,485.7 512.1,489.0 513.1,493.4C514.1,497.9 515.0,504.4 516.0,510.9C517.0,517.5 517.9,526.7 518.9,532.7C519.9,538.8 520.7,543.6 521.8,547.3C522.9,550.9 524.2,553.6 525.5,554.5C526.7,555.5 528.0,554.5 529.1,553.1C530.2,551.6 531.0,549.2 532.0,545.8C533.0,542.4 533.9,537.1 534.9,532.7C535.9,528.4 536.9,522.9 537.8,519.6C538.8,516.4 539.6,514.2 540.7,513.1C541.8,512.0 543.1,512.2 544.4,513.1C545.6,513.9 546.9,515.6 548.0,518.2C549.1,520.7 549.9,524.0 550.9,528.4C551.9,532.7 552.9,538.8 553.8,544.4C554.8,549.9 555.8,556.0 556.7,561.8C557.7,567.6 558.7,574.7 559.6,579.3C560.6,583.9 561.6,587.4 562.5,589.5C563.5,591.5 564.2,591.6 565.5,591.6C566.7,591.6 568.6,591.5 569.8,589.5C571.0,587.4 571.9,583.4 572.7,579.3C573.6,575.1 574.1,568.6 574.9,564.7C575.8,560.9 576.6,557.9 577.8,556.0C579.0,554.1 580.8,554.1 582.2,553.1C583.5,552.1 584.6,550.2 585.8,550.2C587.0,550.2 588.4,551.4 589.5,553.1C590.5,554.8 591.3,558.8 592.4,560.4C593.5,561.9 594.4,562.8 596.0,562.5C597.6,562.3 600.2,560.7 601.8,558.9C603.4,557.1 604.2,553.8 605.5,551.6C606.7,549.5 607.9,547.5 609.1,545.8C610.3,544.1 611.5,542.1 612.7,541.5C613.9,540.8 615.0,541.8 616.4,542.2C617.7,542.5 619.3,543.8 620.7,543.6C622.2,543.5 623.9,543.0 625.1,541.5C626.3,539.9 627.2,537.3 628.0,534.2C628.8,531.0 629.3,526.2 630.2,522.5C631.0,518.9 632.0,515.8 633.1,512.4C634.2,509.0 634.8,505.2 636.7,502.2C638.6,499.1 642.8,497.2 644.5,494.2C646.3,491.1 646.4,487.2 647.5,484.0C648.5,480.8 649.9,477.8 651.1,475.3C652.3,472.7 653.4,470.3 654.7,468.7C656.1,467.2 657.4,466.2 659.1,465.8C660.8,465.5 663.0,466.6 664.9,466.6C666.8,466.6 669.0,466.4 670.7,465.8C672.4,465.2 673.9,464.5 675.1,462.9C676.3,461.3 677.0,459.6 678.0,456.4C679.0,453.1 679.8,449.9 680.9,443.3C682.0,436.6 683.5,422.8 684.7,416.4C686.0,409.9 687.0,407.6 688.4,404.7C689.7,401.8 691.2,400.4 692.7,398.9C694.3,397.5 696.1,397.2 697.8,396.0C699.5,394.8 701.5,393.6 702.9,391.6C704.4,389.7 705.3,387.3 706.5,384.4C707.8,381.5 709.1,377.6 710.2,374.2C711.3,370.8 712.1,366.4 713.1,364.0C714.1,361.6 714.7,360.5 716.0,359.6C717.3,358.8 719.5,358.4 721.1,358.9C722.7,359.4 724.0,361.2 725.5,362.6C726.9,363.9 728.4,365.9 729.8,366.9C731.3,367.9 732.6,368.5 734.2,368.4C735.8,368.2 737.6,367.1 739.3,366.2C741.0,365.2 742.9,364.2 744.4,362.6C745.8,360.9 746.8,357.6 748.0,356.0C749.2,354.4 750.3,353.8 751.6,353.1C753.0,352.4 754.5,351.4 756.0,351.6C757.5,351.9 758.4,354.0 760.4,354.6C762.3,355.1 765.5,355.0 767.6,355.0C769.8,355.0 771.8,355.7 773.5,354.6C775.1,353.4 776.4,350.1 777.8,348.0C779.3,345.9 780.5,343.9 782.2,342.2C783.9,340.5 786.1,338.8 788.0,337.8C789.9,336.9 791.6,336.6 793.8,336.4C796.0,336.1 799.2,335.9 801.1,336.4C803.0,336.8 804.2,338.2 805.5,339.3C806.7,340.4 806.6,342.1 808.4,342.9C810.1,343.8 813.5,343.8 816.0,344.4C818.5,345.0 821.1,345.6 823.3,346.6C825.5,347.5 827.4,348.5 829.1,350.2C830.8,351.9 832.0,354.8 833.5,356.7C834.9,358.7 836.2,360.7 837.8,361.8C839.4,362.9 841.0,363.1 842.9,363.3C844.8,363.4 847.3,363.0 849.5,362.6C851.6,362.1 853.9,361.5 856.0,360.4C858.1,359.3 860.1,357.8 861.8,356.0C863.5,354.2 864.8,351.6 866.2,349.4C867.5,347.3 868.5,344.4 869.8,342.9C871.2,341.5 872.8,340.9 874.2,340.7C875.5,340.6 876.7,340.7 877.8,342.2C878.9,343.6 879.8,347.0 880.7,349.4C881.7,351.9 882.5,355.0 883.6,356.7C884.7,358.4 885.8,359.4 887.3,359.6C888.7,359.9 890.7,358.9 892.4,358.2C894.1,357.5 895.6,355.9 897.5,355.3C899.3,354.7 901.1,354.6 903.3,354.6C905.5,354.6 908.1,355.0 910.5,355.3C913.0,355.5 915.8,355.5 917.8,356.0C919.9,356.5 921.5,356.6 922.9,358.2C924.4,359.8 925.3,363.4 926.5,365.4C927.8,367.5 929.0,369.6 930.2,370.6C931.4,371.5 932.6,371.6 933.8,371.3C935.0,370.9 936.4,370.1 937.5,368.4C938.5,366.7 939.4,364.2 940.4,361.1C941.3,357.9 942.3,353.1 943.3,349.4C944.2,345.8 945.1,341.8 946.2,339.3C947.3,336.7 948.9,335.4 949.8,334.2C950.7,333.0 950.4,332.6 951.6,332.2C952.9,331.7 955.8,332.2 957.5,331.4C959.1,330.7 960.5,329.8 961.8,327.8C963.2,325.9 964.2,323.1 965.5,319.8C966.7,316.5 967.8,311.5 969.1,308.2C970.4,304.9 971.9,301.9 973.5,300.2C975.0,298.5 976.9,298.1 978.5,298.0C980.2,297.9 981.8,298.5 983.6,299.4C985.5,300.4 987.5,302.1 989.5,303.8C991.4,305.5 993.3,307.8 995.3,309.6C997.2,311.5 999.4,313.8 1001.1,314.7C1002.8,315.7 1004.0,316.1 1005.5,315.4C1006.9,314.8 1008.5,313.3 1009.8,311.1C1011.2,308.9 1012.2,305.5 1013.5,302.4C1014.7,299.2 1015.8,294.5 1017.1,292.2C1018.4,289.9 1020.0,288.8 1021.5,288.6C1022.9,288.3 1024.5,289.2 1025.8,290.7C1027.2,292.3 1028.2,295.7 1029.5,298.0C1030.7,300.3 1031.6,303.2 1033.1,304.6C1034.5,305.9 1036.5,306.5 1038.2,306.0C1039.9,305.5 1041.5,303.2 1043.3,301.6C1045.1,300.1 1046.9,297.9 1049.1,296.6C1051.3,295.2 1053.9,294.1 1056.4,293.6C1058.8,293.2 1061.6,293.2 1063.6,293.6C1065.7,294.1 1067.0,294.9 1068.7,296.6C1070.4,298.2 1072.2,301.4 1073.8,303.8C1075.4,306.2 1076.8,308.7 1078.2,311.1C1079.5,313.5 1080.7,316.2 1081.8,318.4C1082.9,320.5 1084.2,323.2 1084.7,324.2" stroke="#000000" stroke-width="5.6"/>
</g>
<text transform="translate(76.0,892.00) scale(1.0,1)" font-size="31.0" fill="#383838" text-anchor="end">-8</text>
<text transform="translate(76.0,802.60) scale(1.0,1)" font-size="31.0" fill="#383838" text-anchor="end">-6</text>
<text transform="translate(76.0,713.00) scale(1.0,1)" font-size="31.0" fill="#383838" text-anchor="end">-4</text>
<text transform="translate(76.0,621.40) scale(1.0,1)" font-size="31.0" fill="#383838" text-anchor="end">-2</text>
<text transform="translate(73.7,531.70) scale(1.0,1)" font-size="31.0" fill="#383838" text-anchor="end">0</text>
<text transform="translate(73.7,440.40) scale(1.0,1)" font-size="31.0" fill="#383838" text-anchor="end">2</text>
<text transform="translate(73.7,350.80) scale(1.0,1)" font-size="31.0" fill="#383838" text-anchor="end">4</text>
<text transform="translate(73.7,259.35) scale(1.0,1)" font-size="31.0" fill="#383838" text-anchor="end">6</text>
<text transform="translate(73.7,169.70) scale(1.0,1)" font-size="31.0" fill="#383838" text-anchor="end">8</text>
<text transform="translate(128.10,914.8) rotate(-45) scale(0.9,1)" font-size="31.0" fill="#383838" text-anchor="end" letter-spacing="1.8">2400</text>
<text transform="translate(168.00,914.8) rotate(-45) scale(0.9,1)" font-size="31.0" fill="#383838" text-anchor="end" letter-spacing="1.8">2600</text>
<text transform="translate(207.90,914.8) rotate(-45) scale(0.9,1)" font-size="31.0" fill="#383838" text-anchor="end" letter-spacing="1.8">2800</text>
<text transform="translate(247.80,914.8) rotate(-45) scale(0.9,1)" font-size="31.0" fill="#383838" text-anchor="end" letter-spacing="1.8">3000</text>
<text transform="translate(287.70,914.8) rotate(-45) scale(0.9,1)" font-size="31.0" fill="#383838" text-anchor="end" letter-spacing="1.8">3200</text>
<text transform="translate(327.60,914.8) rotate(-45) scale(0.9,1)" font-size="31.0" fill="#383838" text-anchor="end" letter-spacing="1.8">3400</text>
<text transform="translate(367.50,914.8) rotate(-45) scale(0.9,1)" font-size="31.0" fill="#383838" text-anchor="end" letter-spacing="1.8">3600</text>
<text transform="translate(407.40,914.8) rotate(-45) scale(0.9,1)" font-size="31.0" fill="#383838" text-anchor="end" letter-spacing="1.8">3800</text>
<text transform="translate(447.30,914.8) rotate(-45) scale(0.9,1)" font-size="31.0" fill="#383838" text-anchor="end" letter-spacing="1.8">4000</text>
<text transform="translate(487.20,914.8) rotate(-45) scale(0.9,1)" font-size="31.0" fill="#383838" text-anchor="end" letter-spacing="1.8">4200</text>
<text transform="translate(527.10,914.8) rotate(-45) scale(0.9,1)" font-size="31.0" fill="#383838" text-anchor="end" letter-spacing="1.8">4400</text>
<text transform="translate(567.00,914.8) rotate(-45) scale(0.9,1)" font-size="31.0" fill="#383838" text-anchor="end" letter-spacing="1.8">4600</text>
<text transform="translate(606.90,914.8) rotate(-45) scale(0.9,1)" font-size="31.0" fill="#383838" text-anchor="end" letter-spacing="1.8">4800</text>
<text transform="translate(646.80,914.8) rotate(-45) scale(0.9,1)" font-size="31.0" fill="#383838" text-anchor="end" letter-spacing="1.8">5000</text>
<text transform="translate(686.70,914.8) rotate(-45) scale(0.9,1)" font-size="31.0" fill="#383838" text-anchor="end" letter-spacing="1.8">5200</text>
<text transform="translate(726.60,914.8) rotate(-45) scale(0.9,1)" font-size="31.0" fill="#383838" text-anchor="end" letter-spacing="1.8">5400</text>
<text transform="translate(766.50,914.8) rotate(-45) scale(0.9,1)" font-size="31.0" fill="#383838" text-anchor="end" letter-spacing="1.8">5600</text>
<text transform="translate(806.40,914.8) rotate(-45) scale(0.9,1)" font-size="31.0" fill="#383838" text-anchor="end" letter-spacing="1.8">5800</text>
<text transform="translate(846.30,914.8) rotate(-45) scale(0.9,1)" font-size="31.0" fill="#383838" text-anchor="end" letter-spacing="1.8">6000</text>
<text transform="translate(886.20,914.8) rotate(-45) scale(0.9,1)" font-size="31.0" fill="#383838" text-anchor="end" letter-spacing="1.8">6200</text>
<text transform="translate(926.10,914.8) rotate(-45) scale(0.9,1)" font-size="31.0" fill="#383838" text-anchor="end" letter-spacing="1.8">6400</text>
<text transform="translate(966.00,914.8) rotate(-45) scale(0.9,1)" font-size="31.0" fill="#383838" text-anchor="end" letter-spacing="1.8">6600</text>
<text transform="translate(1005.90,914.8) rotate(-45) scale(0.9,1)" font-size="31.0" fill="#383838" text-anchor="end" letter-spacing="1.8">6800</text>
<text transform="translate(1045.80,914.8) rotate(-45) scale(0.9,1)" font-size="31.0" fill="#383838" text-anchor="end" letter-spacing="1.8">7000</text>
<text transform="translate(1085.70,914.8) rotate(-45) scale(0.9,1)" font-size="31.0" fill="#383838" text-anchor="end" letter-spacing="1.8">7200</text>
<text x="462.8" y="1002.8" font-size="31.5" fill="#383838" textLength="249" lengthAdjust="spacingAndGlyphs">Frequency, MHz</text>
<text transform="translate(29.2,520.9) rotate(-90)" font-size="31.5" fill="#383838" text-anchor="middle" letter-spacing="0.25">Gain, dBi</text>
<rect x="776.8" y="167.4" width="185.6" height="114.8" fill="#fff" stroke="#383838" stroke-width="1.4"/>
<path d="M791,187.6H883" stroke="#0000ff" stroke-width="5.4" fill="none"/>
<text x="890" y="198.80" font-size="25.7" fill="#383838">wifi</text>
<text transform="translate(928.6,198.80) scale(1.13,1)" font-size="25.7" fill="#383838">1</text>
<path d="M791,224.6H883" stroke="#ff0000" stroke-width="5.4" fill="none"/>
<text x="890" y="235.80" font-size="25.7" fill="#383838">wifi</text>
<text transform="translate(928.6,235.80) scale(1.13,1)" font-size="25.7" fill="#383838">2</text>
<path d="M791,261.6H883" stroke="#000000" stroke-width="5.4" fill="none"/>
<text x="890" y="272.80" font-size="25.7" fill="#383838">wifi</text>
<text transform="translate(928.6,272.80) scale(1.13,1)" font-size="25.7" fill="#383838">3</text>
</g>
</svg>
</body></html>
